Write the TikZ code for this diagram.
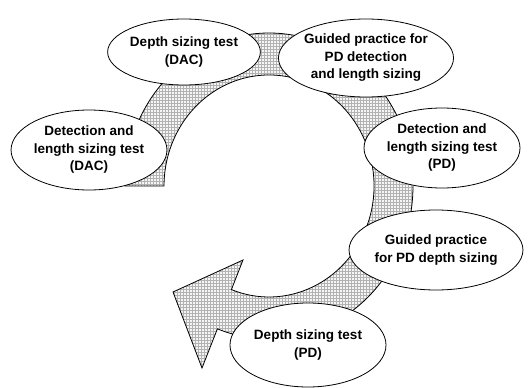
\documentclass[tikz,border=0pt]{standalone}
\usepackage{fontspec}
\setmainfont{Liberation Sans}
\usetikzlibrary{shapes.geometric}
\usetikzlibrary{patterns}
\tikzstyle{pixelPlane} = [x = 1pt, y = -1pt]
\tikzstyle{stageStyle} = [ellipse, draw=black, fill=white, line width=.8pt, inner sep=0pt, align=center, font=\fontsize{13.5}{17.5}\selectfont\bfseries]
\tikzstyle{ringStyle} = [draw=black, line width=.8pt, preaction={fill=gray!8}, pattern=grid, pattern color=gray!60]
\newcommand{\ringX}{269}
\newcommand{\ringY}{186}
\newcommand{\stage}[6]{\node [stageStyle, minimum width = #4, minimum height = #5] (#1) at (#2, #3) {#6};}

\begin{document}
\begin{tikzpicture}[pixelPlane]
  \useasboundingbox (0,0) rectangle (530,388);

  % circular arrow
  \draw [ringStyle] (\ringX - 144, \ringY)
    arc [start angle = 180, end angle = 471, x radius = 144, y radius = 153]
    -- (202,368) -- (173,292) -- (243,260) -- (231.4,289.6)
    arc [start angle = 471, end angle = 180, x radius = 105, y radius = 111]
    -- cycle;

  \stage{dacDepth}{184}{52}{152}{66}{Depth sizing test\\(DAC)}
  \stage{pdGuidedDetect}{366}{58}{156}{78}{Guided practice for\\PD detection\\and length sizing}
  \stage{dacDetect}{89}{150}{154}{80}{Detection and\\length sizing test\\(DAC)}
  \stage{pdDetect}{442}{148}{156}{80}{Detection and\\length sizing test\\(PD)}
  \stage{pdGuidedDepth}{436}{250}{156}{80}{Guided practice\\for PD depth sizing}
  \stage{pdDepth}{308}{345}{156}{84}{Depth sizing test\\(PD)}
\end{tikzpicture}
\end{document}
